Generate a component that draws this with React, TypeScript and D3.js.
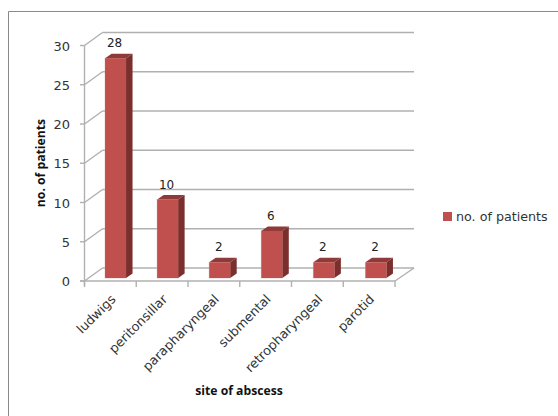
import React from "react";
import * as d3 from "d3";

const categories = ["ludwigs", "peritonsillar", "parapharyngeal", "submental", "retropharyngeal", "parotid"];
const patients = [28, 10, 2, 6, 2, 2];
const yTicks = [0, 5, 10, 15, 20, 25, 30];
const seriesName = "no. of patients";
const xTitle = "site of abscess";
const yTitle = "no. of patients";

const W = 558;
const H = 416;
const FONT = "'DejaVu Sans', sans-serif";
const TITLE_FONT = "'Open Sans', 'DejaVu Sans', sans-serif";

// Oblique offset of the back wall from the front plane
const wallDx = 18;
const wallDy = -13;
// Oblique depth of each bar
const barDx = 6.5;
const barDy = -4.5;

const axisLeft = 84.5;
const axisRight = 395;
// Category slots along the front edge, and the slightly deeper slots the bars stand in
const x = d3.scaleBand<string>().domain(categories).range([axisLeft, axisRight]);
const xBar = d3.scaleBand<string>().domain(categories).range([89.5, 402]);
const y = d3.scaleLinear().domain([0, 30]).range([281, 45.5]);
const pts = (p: [number, number][]) => p.map((a) => a.join(",")).join(" ");

export default function App() {
  const barW = 21;
  const base = y(0) - 3;
  const unit = y(0) - y(1);
  return (
    <svg width={W} height={H} style={{ position: "fixed", left: 0, top: 0, background: "#fff" }}>
      <path d={`M8.5,${H}V11.5H${W}`} fill="none" stroke="#8a8a8a" />

      {/* back wall gridlines and their slanted links to the axis */}
      {yTicks.map((t) => (
        <g key={t} fill="none" stroke="#b0b0b0" strokeWidth={1.4}>
          <line x1={axisLeft} y1={y(t)} x2={axisLeft + wallDx} y2={y(t) + wallDy} />
          <line x1={axisLeft + wallDx} y1={y(t) + wallDy} x2={axisRight + wallDx + 1} y2={y(t) + wallDy} />
        </g>
      ))}
      {/* floor and axes */}
      <g stroke="#b0b0b0" strokeWidth={1.4} fill="none">
        <line x1={axisLeft} y1={y(30)} x2={axisLeft} y2={y(0) + 5} />
        <line x1={80} y1={y(0)} x2={axisRight} y2={y(0)} />
        <line x1={axisRight} y1={y(0)} x2={axisRight + wallDx + 1} y2={y(0) + wallDy} />
        {yTicks.map((t) => (
          <line key={t} x1={80} y1={y(t)} x2={axisLeft} y2={y(t)} />
        ))}
        {d3.range(categories.length + 1).map((i) => (
          <line key={i} x1={axisLeft + i * x.step()} y1={y(0)} x2={axisLeft + i * x.step()} y2={y(0) + 6} />
        ))}
      </g>

      {/* bars: front, top and side faces */}
      {categories.map((c, i) => {
        const v = patients[i];
        const l = xBar(c)! + xBar.bandwidth() / 2 - barW / 2;
        const r = l + barW;
        const top = base - v * unit;
        return (
          <g key={c}>
            <rect x={l - 0.5} y={top - 0.5} width={barW + 1} height={base - top + 1} fill="#e6b9b8" opacity={0.6} />
            <polygon points={pts([[l, top], [l + barDx, top + barDy], [r + barDx, top + barDy], [r, top]])} fill="#8e3a38" />
            <polygon points={pts([[r, top], [r + barDx, top + barDy], [r + barDx, base + barDy], [r, base]])} fill="#7b2f2d" />
            <rect x={l} y={top} width={barW} height={base - top} fill="#c0504d" />
            <text x={l + barW / 2 - 1} y={top - 11} textAnchor="middle" fontFamily={FONT} fontSize={12} fill="#222">
              {v}
            </text>
          </g>
        );
      })}

      {/* value axis labels */}
      {yTicks.map((t) => (
        <text key={t} x={70} y={y(t) + 5} textAnchor="end" fontFamily={FONT} fontSize={13} fill="#333">
          {t}
        </text>
      ))}

      {/* slanted category labels */}
      {categories.map((c) => {
        const cx = x(c)! + x.bandwidth() / 2 + 6;
        return (
          <text
            key={c}
            transform={`translate(${cx},${300}) rotate(-45)`}
            textAnchor="end"
            fontFamily={FONT}
            fontSize={12.8}
            fill="#333"
          >
            {c}
          </text>
        );
      })}

      <text
        transform={`translate(45,163) rotate(-90)`}
        textAnchor="middle"
        fontFamily={TITLE_FONT}
        fontWeight="bold"
        fontSize={12.2}
        fill="#111"
      >
        {yTitle}
      </text>
      <text x={239} y={395} textAnchor="middle" fontFamily={TITLE_FONT} fontWeight="bold" fontSize={12.2} fill="#111">
        {xTitle}
      </text>

      {/* legend */}
      <rect x={443} y={212} width={9} height={9} fill="#c0504d" />
      <text x={456} y={221} fontFamily={FONT} fontSize={12.7} fill="#333">
        {seriesName}
      </text>
    </svg>
  );
}
